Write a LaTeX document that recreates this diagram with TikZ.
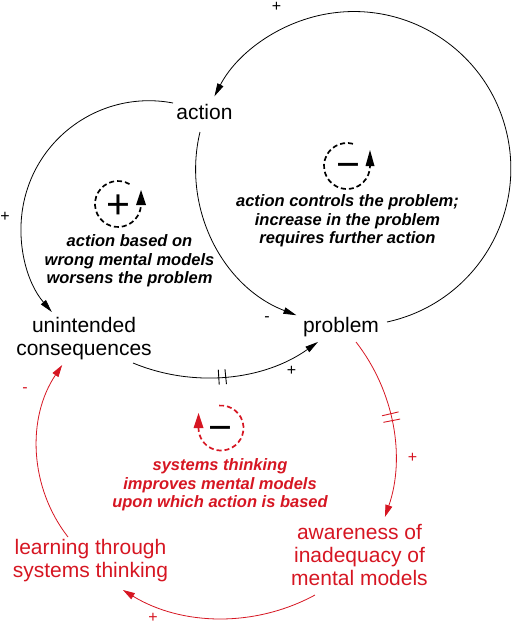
\documentclass[tikz,border=0pt]{standalone}
\usepackage{fontspec}
\setmainfont{Liberation Sans}
\usetikzlibrary{arrows.meta}
\definecolor{loopred}{RGB}{214,22,34}
\begin{document}
\begin{tikzpicture}[x=1pt,y=-1pt,
  var/.style={font=\fontsize{21}{23}\selectfont, align=center, inner sep=0pt},
  note/.style={font=\bfseries\itshape\fontsize{16.5}{18.5}\selectfont, align=center, inner sep=0pt},
  pol/.style={font=\fontsize{16}{16}\selectfont, inner sep=0pt},
  sym/.style={font=\fontsize{41}{41}\selectfont, inner sep=0pt, anchor=base},
  link/.style={line width=0.8pt, -{Triangle[length=13pt,width=6.5pt]}},
  redlink/.style={line width=0.8pt, loopred, -{Triangle[length=12pt,width=7pt]}},
  loopdash/.style={line width=1.7pt, dash pattern=on 5pt off 3pt},
  hash/.style={line width=0.9pt}
]
\useasboundingbox (0,0) rectangle (514,624);

% variables
\node[var] (action) at (204.5,112) {action};
\node[var] (problem) at (341,327) {problem};
\node[var] (unint) at (84,339) {unintended\\consequences};
\node[var, text=loopred] (aware) at (359.5,555) {awareness of\\inadequacy of\\mental models};
\node[var, text=loopred] (learn) at (90.5,561) {learning through\\systems thinking};

% loop centres (for the hash marks)
\coordinate (c3) at (206.5,185.6);
\coordinate (c4) at (209.4,456.2);

% black links
\draw[link] ([shift={(46,-5)}]problem.center) arc[start angle=77.8, end angle=-152.6, radius=157];
\draw[link] ([shift={(-4.5,20)}]action.center) arc[start angle=193.5, end angle=111, radius=157];
\draw[link] ([shift={(-31.5,-9)}]action.center) arc[start angle=-79.2, end angle=-220.6, radius=128];
\draw[link] ([shift={(49,24)}]unint.center) arc[start angle=112.5, end angle=54.5, radius=192];
\draw[hash] ([shift={(84.26:184.5)}]c3) -- ([shift={(84.26:199.5)}]c3);
\draw[hash] ([shift={(86.34:184.5)}]c3) -- ([shift={(86.34:199.5)}]c3);

% red links
\draw[redlink] ([shift={(15,15)}]problem.center) arc[start angle=-37.9, end angle=19.1, radius=185.8];
\draw[hash, loopred] ([shift={(-13.18:177.3)}]c4) -- ([shift={(-13.18:194.3)}]c4);
\draw[hash, loopred] ([shift={(-11.02:177.3)}]c4) -- ([shift={(-11.02:194.3)}]c4);
\draw[redlink] ([shift={(-44.5,40)}]aware.center) arc[start angle=61.5, end angle=121.5, radius=192.2];
\draw[redlink] ([shift={(-22.5,-24)}]learn.center) arc[start angle=142.1, end angle=214, radius=146.5];

% polarities
\node[pol] (p1) at (276.5,7) {+};
\node[pol] (p2) at (5,217) {+};
\node[pol] (p3) at (267,319) {-};
\node[pol] (p4) at (291.5,370.5) {+};
\node[pol, text=loopred] (p5) at (25,390) {-};
\node[pol, text=loopred] (p6) at (412.5,457.5) {+};
\node[pol, text=loopred] (p7) at (153,617.5) {+};

% loop R (reinforcing)
\coordinate (Rl) at (118,204);
\draw[loopdash] ([shift={(-60:23)}]Rl) arc[start angle=-60, end angle=-360, radius=23];
\fill ([shift={(18,1)}]Rl) -- ([shift={(23,-14)}]Rl) -- ([shift={(28,1)}]Rl) -- cycle;
\node[sym] (Rsign) at (118,218.4) {+};
\node[note] (Rnote) at (129.5,261) {action based on\\wrong mental models\\worsens the problem};

% loop B (balancing, black)
\coordinate (Bl) at (347,166);
\draw[loopdash] ([shift={(-75:23)}]Bl) arc[start angle=-75, end angle=-360, radius=23];
\fill ([shift={(18.5,0)}]Bl) -- ([shift={(23,-16)}]Bl) -- ([shift={(27.5,0)}]Bl) -- cycle;
\node[sym] (Bsign) at (348,178.4) {−};
\node[note] (Bnote) at (347.5,221) {action controls the problem;\\increase in the problem\\requires further action};

% loop B (balancing, red)
\coordinate (Sl) at (221,428);
\draw[loopdash, loopred] ([shift={(-95:22.5)}]Sl) arc[start angle=-95, end angle=180, radius=22.5];
\fill[loopred] ([shift={(-27.5,0)}]Sl) -- ([shift={(-22.5,-15)}]Sl) -- ([shift={(-17.5,0)}]Sl) -- cycle;
\node[sym] (Ssign) at (220,441.4) {−};
\node[note, text=loopred] (Snote) at (220,485) {systems thinking\\improves mental models\\upon which action is based};
\end{tikzpicture}
\end{document}
